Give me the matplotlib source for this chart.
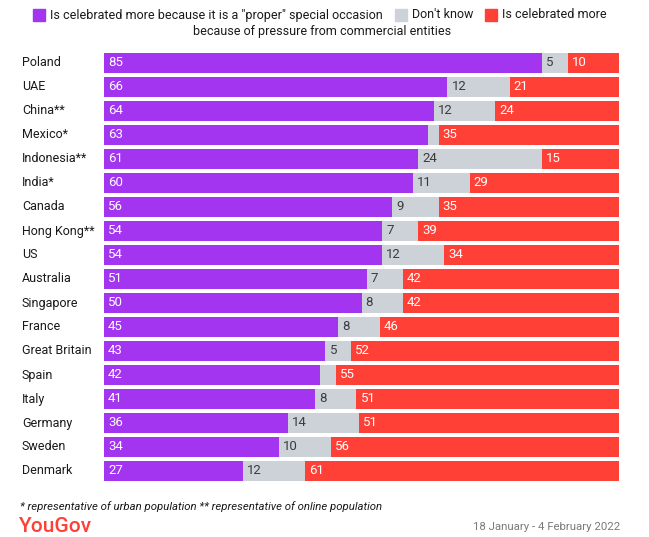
"""YouGov stacked bar chart: why Valentine's Day is celebrated more."""

import matplotlib.pyplot as plt
import matplotlib.transforms as mtransforms
from matplotlib.patches import Rectangle

PURPLE = "#a335f0"
GREY = "#cdd1d8"
RED = "#fe4036"
TEXT = "#1a1a1a"
MUTED = "#7a7a7a"

countries = [
    "Poland", "UAE", "China**", "Mexico*", "Indonesia**", "India*", "Canada",
    "Hong Kong**", "US", "Australia", "Singapore", "France", "Great Britain",
    "Spain", "Italy", "Germany", "Sweden", "Denmark",
]
proper = [85, 66, 64, 63, 61, 60, 56, 54, 54, 51, 50, 45, 43, 42, 41, 36, 34, 27]
dont_know = [5, 12, 12, 2, 24, 11, 9, 7, 12, 7, 8, 8, 5, 3, 8, 14, 10, 12]
pressure = [10, 21, 24, 35, 15, 29, 35, 39, 34, 42, 42, 46, 52, 55, 51, 51, 56, 61]
legend_labels = ['Is celebrated more because it is a "proper" special occasion',
                 "Don't know", "Is celebrated more"]
legend_colors = [PURPLE, GREY, RED]

plt.rcParams["font.family"] = ["Roboto", "DejaVu Sans"]

fig = plt.figure(figsize=(6.49, 5.37), dpi=100)
ax = fig.add_axes([104 / 649, 1 - 483 / 537, 515 / 649, 432 / 537])

ys = list(range(len(countries)))
for y, p, d, r in zip(ys, proper, dont_know, pressure):
    total = p + d + r
    left = 0.0
    for val, color, tc in [(p, PURPLE, "white"), (d, GREY, "#3c3c3c"), (r, RED, "white")]:
        w = val / total * 100
        ax.barh(y, w, left=left, height=0.8, color=color, linewidth=0)
        if val >= 5:
            ax.text(left + 0.8, y, str(val), ha="left", va="center",
                    fontsize=9.5, color=tc)
        left += w

ax.set_xlim(0, 100)
ax.set_ylim(len(countries) - 0.5, -0.5)
ax.axis("off")

# country names: figure x, data y
label_tf = mtransforms.blended_transform_factory(fig.transFigure, ax.transData)
for y, name in zip(ys, countries):
    ax.text(22 / 649, y, name, transform=label_tf, fontsize=9, color=TEXT,
            ha="left", va="center", clip_on=False)

# legend: flow the items left to right from the first swatch
renderer = fig.canvas.get_renderer()
x = 33.0
for text, color in zip(legend_labels, legend_colors):
    fig.patches.append(Rectangle((x / 649, 1 - 21 / 537), 12 / 649, 12 / 537,
                                 transform=fig.transFigure, color=color, figure=fig))
    t = fig.text((x + 17) / 649, 1 - 15 / 537, text, fontsize=9, color=TEXT,
                 ha="left", va="center")
    x += 17 + t.get_window_extent(renderer).width + 12
fig.text(322 / 649, 1 - 32 / 537, "because of pressure from commercial entities",
         fontsize=9, color=TEXT, ha="center", va="center")

fig.text(20 / 649, 1 - 507 / 537,
         "* representative of urban population ** representative of online population",
         fontsize=8.2, style="italic", color=TEXT, ha="left", va="center")
fig.text(19 / 649, 1 - 526 / 537, "YouGov", fontsize=15, color=RED,
         ha="left", va="center", fontweight="medium")
fig.text(620 / 649, 1 - 527 / 537, "18 January - 4 February 2022", fontsize=8.2,
         color=MUTED, ha="right", va="center")

fig.savefig("out.png", dpi=100, facecolor="white")
